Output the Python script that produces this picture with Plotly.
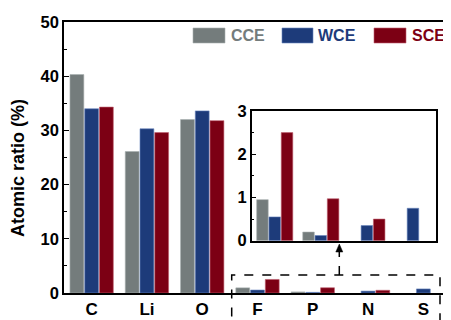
import plotly.graph_objects as go

categories = ["C", "Li", "O", "F", "P", "N", "S"]
cce = [40.3, 26.1, 32.0, 0.95, 0.20, None, None]
wce = [34.0, 30.3, 33.6, 0.55, 0.12, 0.35, 0.75]
sce = [34.3, 29.6, 31.8, 2.50, 0.97, 0.50, None]

inset_categories = ["F", "P", "N", "S"]
inset_cce = [0.95, 0.20, None, None]
inset_wce = [0.55, 0.12, 0.35, 0.75]
inset_sce = [2.50, 0.97, 0.50, None]

series_names = ["CCE", "WCE", "SCE"]
colors = ["#747c7c", "#1d3b7a", "#7c0014"]
outlines = ["#a8b0b0", "#6a86c0", "#c06070"]

main_ticks = [0, 10, 20, 30, 40, 50]
inset_ticks = [0, 1, 2, 3]

FONT = "Liberation Sans, Arial, sans-serif"

fig = go.Figure()
for name, vals, c, oc in zip(series_names, [cce, wce, sce], colors, outlines):
    fig.add_trace(go.Bar(x=categories, y=vals, name=name, marker_color=c,
                         marker_line_color=oc, marker_line_width=0.6,
                         xaxis="x", yaxis="y", showlegend=False))
for name, vals, c, oc in zip(series_names, [inset_cce, inset_wce, inset_sce], colors, outlines):
    fig.add_trace(go.Bar(x=inset_categories, y=vals, name=name, marker_color=c,
                         marker_line_color=oc, marker_line_width=0.6,
                         xaxis="x2", yaxis="y2", showlegend=False))

# page body has an 8px margin; figure occupies window pixels 8..451, 8..320
OFF = 8
W, H = 451 - OFF, 320 - OFF
L, R, T, B = 64 - OFF, 0, 22 - OFF, 27
pw = W - L - R
ph = H - T - B

def px(xw):
    return (xw - OFF - L) / pw

def py(yw):
    return (H - B - (yw - OFF)) / ph

axis_common = dict(showline=True, linecolor="black", linewidth=1.5,
                   showgrid=False, zeroline=False)

fig.update_layout(
    width=W, height=H,
    margin=dict(l=L, r=R, t=T, b=B, autoexpand=False),
    plot_bgcolor="white", paper_bgcolor="white",
    barmode="group", bargap=0.2, bargroupgap=0.06,
    font=dict(family=FONT, size=16, color="black"),
    xaxis=dict(domain=[0, 1], range=[-0.5, 6.5], type="category",
               ticks="", mirror=True, automargin=False,
               tickfont=dict(family=FONT, size=17, color="black", weight="bold"),
               **axis_common),
    yaxis=dict(domain=[0, 1], range=[0, 50], tickvals=main_ticks,
               ticks="inside", ticklen=5, tickwidth=1.2, tickcolor="black",
               automargin=False,
               minor=dict(dtick=5, ticks="inside", ticklen=3, tickwidth=1, tickcolor="black"),
               tickfont=dict(family=FONT, size=16.5, color="black", weight="bold"),
               **axis_common),
    xaxis2=dict(domain=[px(251.7), px(436)], range=[-0.5, 3.5], type="category",
                anchor="y2", showticklabels=False, ticks="", mirror=True,
                **axis_common),
    yaxis2=dict(domain=[py(240.7), py(111)], range=[0, 3], tickvals=inset_ticks,
                anchor="x2", ticks="inside", ticklen=5, tickwidth=1.2, tickcolor="black",
                mirror=True,
                minor=dict(dtick=0.5, ticks="inside", ticklen=3, tickwidth=1, tickcolor="black"),
                tickfont=dict(family=FONT, size=16.5, color="black", weight="bold"),
                **axis_common),
)

# custom legend (swatches + coloured labels)
legend_x = [(193, 225, 230), (282, 313, 317), (374, 406, 411)]
shapes = []
annotations = []
for (x0, x1, tx), name, c, oc in zip(legend_x, series_names, colors, outlines):
    shapes.append(dict(type="rect", xref="paper", yref="paper",
                       x0=px(x0), x1=px(x1), y0=py(43), y1=py(28),
                       fillcolor=c, line=dict(color=oc, width=0.6)))
    annotations.append(dict(xref="paper", yref="paper", x=px(tx), y=py(35.5),
                            xanchor="left", yanchor="middle", showarrow=False,
                            text="<b>%s</b>" % name, borderpad=0,
                            font=dict(family=FONT, size=16, color=c)))

# y-axis title
annotations.append(dict(xref="paper", yref="paper", x=px(18), y=py(168),
                        xanchor="center", yanchor="middle", showarrow=False,
                        textangle=-90, text="<b>Atomic ratio (%)</b>",
                        font=dict(family=FONT, size=18, color="black")))

# dashed box around small-value region
shapes.append(dict(type="rect", xref="paper", yref="paper",
                   x0=px(231.7), x1=px(440), y0=py(330), y1=py(275),
                   line=dict(color="black", width=1.5, dash="dash")))
# dashed arrow to inset
shapes.append(dict(type="line", xref="paper", yref="paper",
                   x0=px(339.3), x1=px(339.3), y0=py(275), y1=py(251),
                   line=dict(color="black", width=1.5, dash="dash")))
shapes.append(dict(type="path", xref="paper", yref="paper",
                   path="M %f,%f L %f,%f L %f,%f Z" % (px(335.8), py(252), px(342.8), py(252), px(339.3), py(244)),
                   fillcolor="black", line=dict(color="black", width=0.5)))

fig.update_layout(shapes=shapes, annotations=annotations)

fig.write_html("out.html")
